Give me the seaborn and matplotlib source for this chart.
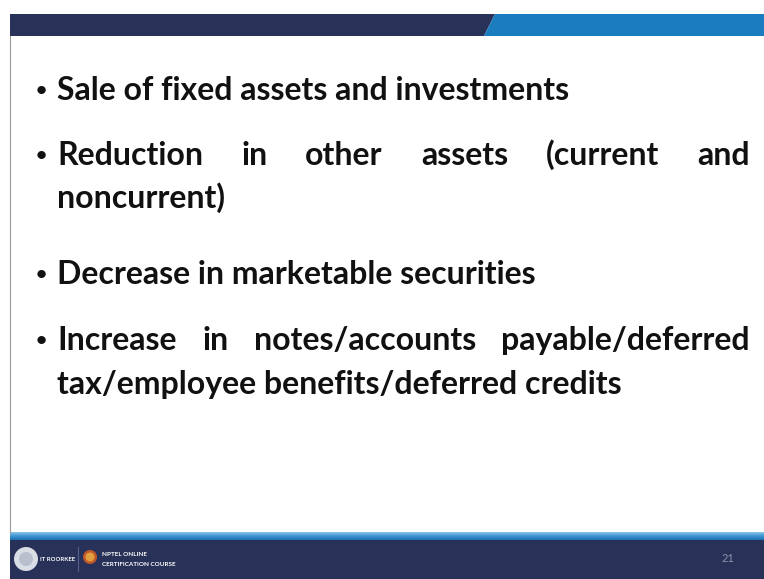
import matplotlib
matplotlib.use("Agg")
import matplotlib.pyplot as plt
import seaborn as sns
import numpy as np
from matplotlib.patches import Polygon, Rectangle, Circle
from matplotlib.colors import LinearSegmentedColormap

sns.set_theme(style="white")
plt.rcParams['font.family'] = ['Lato', 'DejaVu Sans']

# ---- content ----
line_words = [
    ["Sale", "of", "fixed", "assets", "and", "investments"],
    ["Reduction", "in", "other", "assets", "(current", "and"],
    ["noncurrent)"],
    ["Decrease", "in", "marketable", "securities"],
    ["Increase", "in", "notes/accounts", "payable/deferred"],
    ["tax/employee", "benefits/deferred", "credits"],
]
has_bullet = [True, True, False, True, True, False]
justified = [False, True, False, False, True, False]
page_number = "21"
footer_left = "IT ROORKEE"
footer_mid = ["NPTEL ONLINE", "CERTIFICATION COURSE"]

W, H = 764, 579
fig = plt.figure(figsize=(W / 100, H / 100), dpi=100)
ax = fig.add_axes([0, 0, 1, 1])
ax.set_xlim(0, W)
ax.set_ylim(H, 0)
ax.axis("off")

navy = "#283157"
blue = "#1b7cc0"

# top band
ax.add_patch(Polygon([[10, 14], [495, 14], [484, 36], [10, 36]], closed=True, color=navy, lw=0))
ax.add_patch(Polygon([[495, 14], [W, 14], [W, 36], [484, 36]], closed=True, color=blue, lw=0))
# left thin line
ax.plot([10, 10], [36, 533], color="#9a9a9a", lw=0.8)

# bottom strip gradient
grad = np.linspace(0, 1, 50).reshape(-1, 1)
cm = LinearSegmentedColormap.from_list("g", ["#8cc6ea", "#3d95d2", "#1e6fb2"])
ax.imshow(grad, extent=[10, W, 540, 532], cmap=cm, aspect="auto", zorder=1)
ax.add_patch(Rectangle((10, 540), W - 10, H - 540, color=navy, lw=0, zorder=1))

# footer logos
ax.add_patch(Circle((26, 559), 12, color="#d9dde6", lw=0, zorder=2))
ax.add_patch(Circle((26, 559), 7, color="#b9bfcc", lw=0, zorder=3))
ax.text(40, 559.5, footer_left, color="white", fontsize=4.3, fontweight="bold", va="center", ha="left", zorder=3)
ax.plot([78, 78], [547, 571], color="#56608a", lw=0.8, zorder=3)
ax.add_patch(Circle((90, 557), 7, color="#c0582a", lw=0, zorder=2))
ax.add_patch(Circle((90, 557), 4.5, color="#e0a040", lw=0, zorder=3))
ax.text(102, 554, footer_mid[0], color="white", fontsize=4.6, fontweight="bold", va="center", ha="left", zorder=3)
ax.text(102, 564.5, footer_mid[1], color="white", fontsize=4.6, fontweight="bold", va="center", ha="left", zorder=3)
ax.text(728, 559, page_number, color="#8c93a8", fontsize=8, va="center", ha="center", zorder=3)

# body text
baselines = [100, 165, 208, 284, 350, 394]
x_left = 57
x_right = 750
fig.canvas.draw()
renderer = fig.canvas.get_renderer()

# fit font size to first line width
probe = ax.text(0, 0, " ".join(line_words[0]), fontsize=20, fontweight="bold")
w0 = probe.get_window_extent(renderer).width
probe.remove()
fs = 20 * (570 - x_left) / w0

for words, yb, bul, just in zip(line_words, baselines, has_bullet, justified):
    if bul:
        ax.text(41, yb - 4, "\u2022", fontsize=fs * 0.6, fontweight="bold", ha="center", va="baseline",
                color="#111111")
    if not just:
        ax.text(x_left, yb, " ".join(words), fontsize=fs, fontweight="bold", ha="left",
                va="baseline", color="#111111")
    else:
        widths = []
        for wd in words:
            t = ax.text(0, 0, wd, fontsize=fs, fontweight="bold")
            widths.append(t.get_window_extent(renderer).width)
            t.remove()
        gap = (x_right - x_left - sum(widths)) / (len(words) - 1)
        x = x_left
        for wd, wdt in zip(words, widths):
            ax.text(x, yb, wd, fontsize=fs, fontweight="bold", ha="left", va="baseline", color="#111111")
            x += wdt + gap

fig.savefig("out.png", dpi=100)
